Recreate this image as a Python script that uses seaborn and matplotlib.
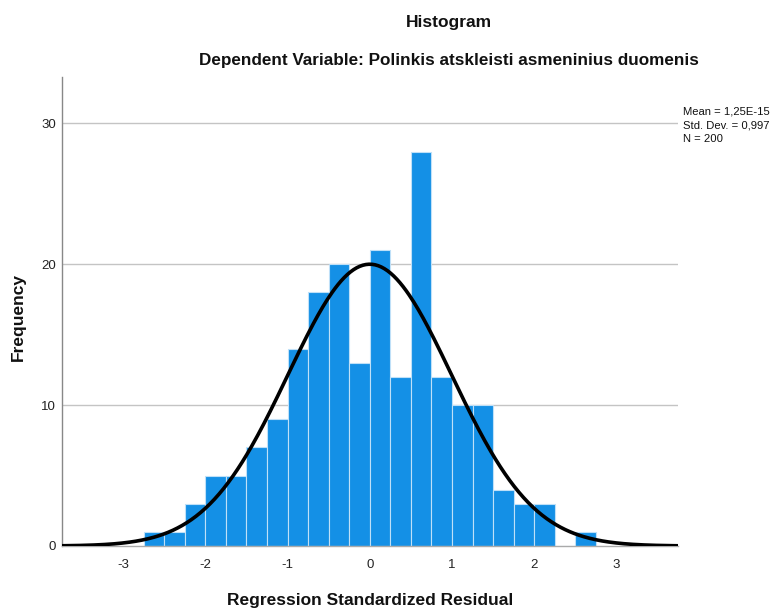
import numpy as np
import pandas as pd
import matplotlib
matplotlib.use("Agg")
import matplotlib.pyplot as plt
import seaborn as sns

# ---- data ----
bin_edges = [-2.75, -2.5, -2.25, -2.0, -1.75, -1.5, -1.25, -1.0, -0.75, -0.5, -0.25,
             0.0, 0.25, 0.5, 0.75, 1.0, 1.25, 1.5, 1.75, 2.0, 2.25, 2.5, 2.75]
counts = [1, 1, 3, 5, 5, 7, 9, 14, 18, 20, 13, 21, 12, 28, 12, 10, 10, 4, 3, 3, 0, 1]
mean_val = 1.25e-15
std_val = 0.997
n_val = 200
x_ticks = [-3, -2, -1, 0, 1, 2, 3]
y_ticks = [0, 10, 20, 30]
stats_lines = ["Mean = 1,25E-15", "Std. Dev. = 0,997", "N = 200"]
title = "Histogram"
subtitle = "Dependent Variable: Polinkis atskleisti asmeninius duomenis"
xlabel = "Regression Standardized Residual"
ylabel = "Frequency"

sns.set_theme(style="white")
plt.rcParams['font.family'] = ['Liberation Sans', 'DejaVu Sans']

fig = plt.figure(figsize=(7.74, 6.08), dpi=100)
ax = fig.add_axes([61.5/774, 1-546/608, (678-61.5)/774, (546-77)/608])

centers = [(bin_edges[i] + bin_edges[i+1]) / 2 for i in range(len(counts))]
df = pd.DataFrame({"x": centers, "w": counts})
sns.histplot(data=df, x="x", weights="w", bins=bin_edges, ax=ax,
             color="#1490E6", alpha=1.0, edgecolor="#BFE0F8", linewidth=0.8, zorder=2)

# fitted normal curve
bw = bin_edges[1] - bin_edges[0]
xs = np.linspace(-3.75, 3.75, 400)
ys = n_val * bw * np.exp(-0.5 * ((xs - mean_val) / std_val) ** 2) / (std_val * np.sqrt(2 * np.pi))
sns.lineplot(x=xs, y=ys, ax=ax, color="black", linewidth=2.6, zorder=3)

ax.set_xlim(-3.75, 3.75)
ax.set_ylim(0, 33.3)
ax.set_xticks(x_ticks)
ax.set_xticklabels([str(t) for t in x_ticks])
ax.set_yticks(y_ticks)
ax.set_yticklabels([str(t) for t in y_ticks])
ax.tick_params(axis="both", length=0, labelsize=9.5, colors="#222222")
ax.tick_params(axis="x", pad=9)
ax.tick_params(axis="y", pad=4)
for y in y_ticks[1:]:
    ax.axhline(y, color="#C4C4C4", linewidth=1.0, zorder=1)
ax.set_xlabel("")
ax.set_ylabel("")
for s in ["top", "right"]:
    ax.spines[s].set_visible(False)
ax.spines["left"].set_color("#888888")
ax.spines["bottom"].set_color("#AAAAAA")
ax.spines["left"].set_linewidth(1.0)
ax.spines["bottom"].set_linewidth(1.0)

fig.text(449/774, 1-22/608, title, ha="center", va="center", fontsize=12.5, fontweight="bold", color="#111111")
fig.text(449/774, 1-61/608, subtitle, ha="center", va="center", fontsize=12.3, fontweight="bold", color="#111111")
fig.text(370/774, 1-600/608, xlabel, ha="center", va="center", fontsize=12.5, fontweight="bold", color="#111111")
fig.text(18/774, 1-317/608, ylabel, ha="center", va="center", rotation=90, fontsize=12.5, fontweight="bold", color="#111111")
for i, line in enumerate(stats_lines):
    fig.text(683/774, 1-(112 + i*13.5)/608, line, ha="left", va="center", fontsize=8.1, color="#111111")

fig.savefig("out.png", dpi=100)
